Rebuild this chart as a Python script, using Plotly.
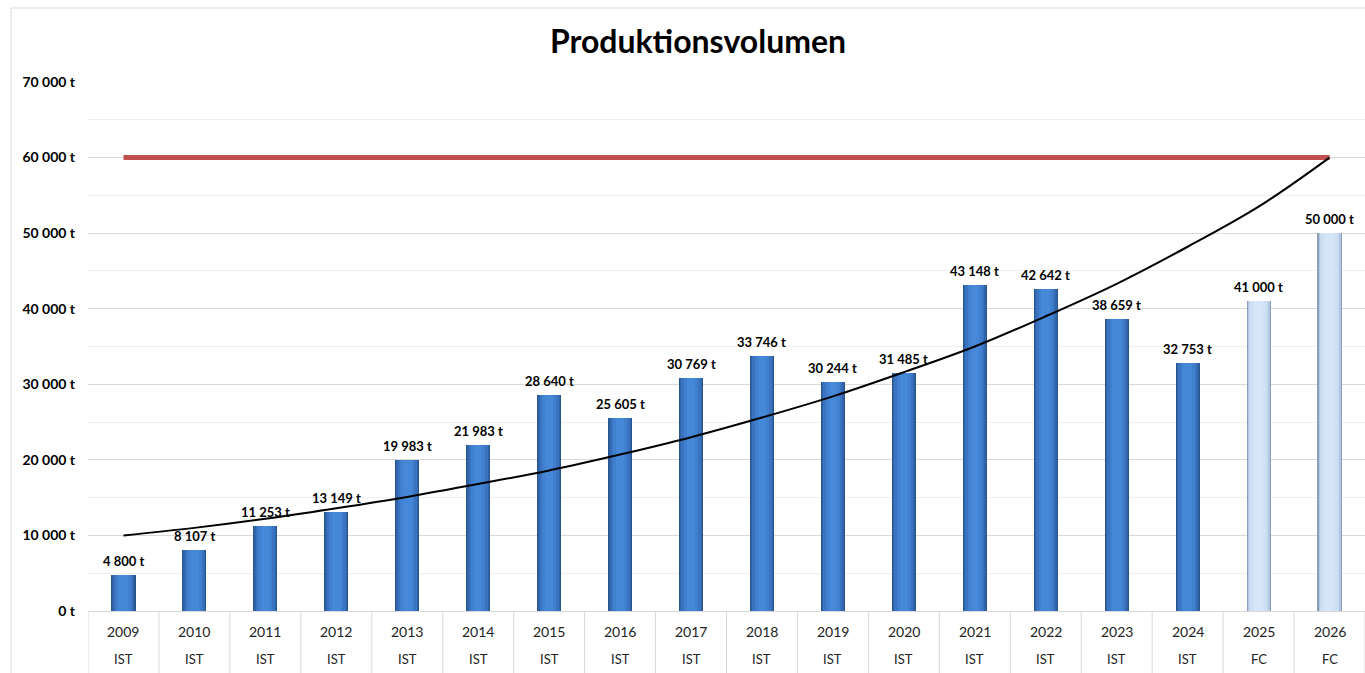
import plotly.graph_objects as go

years = ["2009", "2010", "2011", "2012", "2013", "2014", "2015", "2016", "2017",
         "2018", "2019", "2020", "2021", "2022", "2023", "2024", "2025", "2026"]
kind = ["IST"] * 16 + ["FC", "FC"]
volume = [4800, 8107, 11253, 13149, 19983, 21983, 28640, 25605, 30769,
          33746, 30244, 31485, 43148, 42642, 38659, 32753, 41000, 50000]
trend = [10000, 11000, 12200, 13600, 15100, 16800, 18600, 20700, 23000,
         25600, 28400, 31600, 35000, 39000, 43300, 48200, 53500, 60000]
target = 60000

FONT = "Lato"
W, H = 1365, 673
L, R, T, B = 88, 0, 82, 62

ist_layers = [(0.34, "#27558f"), (0.31, "#3163a8"), (0.27, "#3a74c0"),
              (0.20, "#417fcf"), (0.12, "#4688d8")]
fc_layers = [(0.34, "#8a9fbb"), (0.31, "#b3c7e0"), (0.27, "#c9dbf1"),
             (0.20, "#d0e1f6"), (0.12, "#d6e5f8")]

fig = go.Figure()
for (w, c_ist), (_, c_fc) in zip(ist_layers, fc_layers):
    colors = [c_ist if k == "IST" else c_fc for k in kind]
    fig.add_trace(go.Bar(x=years, y=volume, width=w, marker=dict(color=colors, line=dict(width=0)),
                         hoverinfo="skip", showlegend=False))

fig.add_trace(go.Scatter(x=[years[0], years[-1]], y=[target, target], mode="lines",
                         line=dict(color="#c0504d", width=5), showlegend=False, hoverinfo="skip"))
fig.add_trace(go.Scatter(x=years, y=trend, mode="lines",
                         line=dict(color="#000000", width=2, shape="spline"),
                         showlegend=False, hoverinfo="skip"))

ph = H - T - B
ann = []
for i, (y, k, v) in enumerate(zip(years, kind, volume)):
    ann.append(dict(x=i, y=v, xref="x", yref="y", yshift=14, showarrow=False,
                    text="<b>" + f"{v:,}".replace(",", " ") + " t</b>",
                    font=dict(family=FONT, size=13, color="#000")))
    ann.append(dict(x=i, y=-(631 - 611) / ph, xref="x", yref="paper", showarrow=False,
                    text=y, font=dict(family=FONT, size=14, color="#222"), yanchor="middle"))
    ann.append(dict(x=i, y=-(659 - 611) / ph, xref="x", yref="paper", showarrow=False,
                    text=k, font=dict(family=FONT, size=13, color="#222"), yanchor="middle"))

shapes = []
for i in range(len(years) + 1):
    shapes.append(dict(type="line", xref="x", yref="paper", x0=i - 0.5, x1=i - 0.5,
                       y0=0, y1=-B / ph, line=dict(color="#d9d9d9", width=1)))
shapes.append(dict(type="rect", xref="paper", yref="paper",
                   x0=(11 - L) / (W - L - R), x1=1.01, y0=-0.2, y1=(611 - 8) / ph,
                   line=dict(color="#d9d9d9", width=1), fillcolor="rgba(0,0,0,0)", layer="below"))

fig.update_layout(
    width=W, height=H, margin=dict(l=L, r=R, t=T, b=B),
    barmode="overlay", bargap=0,
    plot_bgcolor="white", paper_bgcolor="white",
    separators=", ",
    title=dict(text="<b>Produktionsvolumen</b>", x=698 / W, xanchor="center",
               y=1 - 42 / H, yanchor="middle", yref="container",
               font=dict(family=FONT, size=32, color="#000")),
    xaxis=dict(type="category", range=[-0.5, 17.5], showticklabels=False, showgrid=False,
               showline=True, linecolor="#d9d9d9", linewidth=1, zeroline=False, ticks=""),
    yaxis=dict(range=[0, 70000], dtick=10000, tickformat=",d", ticksuffix=" t",
               tickfont=dict(family=FONT, size=14, color="#000", weight="bold"),
               gridcolor="#d9d9d9", gridwidth=1, zeroline=False, showline=False,
               ticklabelstandoff=12,
               minor=dict(dtick=5000, showgrid=True, gridcolor="#efefef", gridwidth=1)),
    annotations=ann, shapes=shapes,
)

fig.write_html("out.html", config={"displayModeBar": False},
               post_script="document.body.style.margin='0';")
